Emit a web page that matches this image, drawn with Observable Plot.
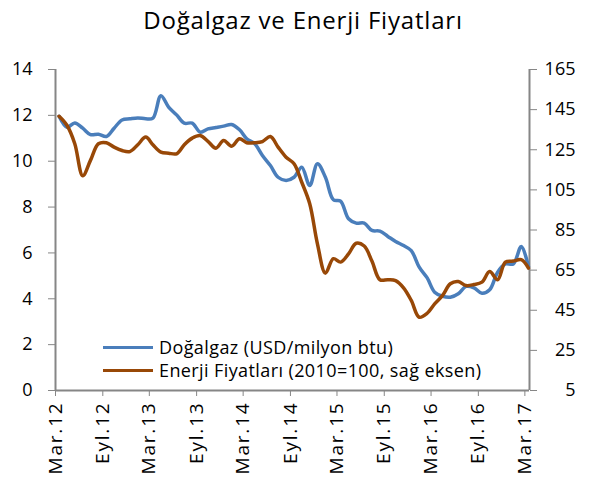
<!DOCTYPE html>
<html><head><meta charset="utf-8">
<script src="https://cdn.jsdelivr.net/npm/d3@7"></script>
<script src="https://cdn.jsdelivr.net/npm/@observablehq/plot@0.6"></script>
<style>
body{margin:0;background:#fff;font-family:"Open Sans",sans-serif;}
#wrap{position:relative;width:592px;height:481px;overflow:hidden;}
#title{height:40px;text-align:center;font-size:24px;letter-spacing:0.8px;line-height:40px;color:#000;padding-left:14px;box-sizing:border-box;}
.leg{position:absolute;left:103px;font-size:18px;letter-spacing:0.4px;line-height:20px;display:flex;align-items:center;white-space:nowrap;color:#000;}
.leg span.sw{display:inline-block;width:50px;height:3px;margin-right:6px;}
g[aria-label="x-axis tick label"] text{letter-spacing:1.8px;}
</style></head><body>
<div id="wrap">
<div id="title">Doğalgaz ve Enerji Fiyatları</div>
<div id="chart"></div>
</div>
<script>
// Monthly series, Mar 2012 .. Mar 2017
const startYear = 2012, startMonth = 2; // March
const gas = [11.96,11.48,11.67,11.44,11.16,11.18,11.08,11.44,11.8,11.85,11.89,11.85,11.88,12.86,12.36,12.02,11.66,11.66,11.27,11.41,11.47,11.53,11.6,11.37,10.98,10.76,10.25,9.81,9.30,9.16,9.30,9.74,8.94,9.89,9.30,8.32,8.26,7.49,7.30,7.30,6.98,6.95,6.72,6.5,6.32,6.1,5.38,4.91,4.29,4.11,4.07,4.22,4.54,4.48,4.24,4.39,5.16,5.52,5.52,6.28,5.4];
const energy = [141.7,137.1,128,112,119.7,128,128.5,126.3,124.6,124.1,127.5,131.3,127.5,123.8,123.3,123,127.5,130.8,132.1,129.2,125.8,129.6,126.8,130.5,128.5,128.5,129.1,131.6,126.3,121.3,118,108.8,98.1,78.1,63.5,70.7,69,73.1,78.4,77,69.5,60.2,60.2,59.8,56.2,49.9,41.5,43.5,48.2,52.4,58.2,59.3,57.3,57.8,59,64.3,60.2,69,69.5,70.2,66];
const xTickLabels = ["Mar.12","Eyl.12","Mar.13","Eyl.13","Mar.14","Eyl.14","Mar.15","Eyl.15","Mar.16","Eyl.16","Mar.17"];
const leftTicks = [0,2,4,6,8,10,12,14];
const rightTicks = [5,25,45,65,85,105,125,145,165];
const seriesNames = ["Doğalgaz (USD/milyon btu)","Enerji Fiyatları (2010=100, sağ eksen)"];
const colors = ["#4a7ebb","#984807"];

const leftDomain = [0,14], rightDomain = [5,165];
const toLeft = r => leftDomain[0] + (r - rightDomain[0]) * (leftDomain[1]-leftDomain[0]) / (rightDomain[1]-rightDomain[0]);

const dateOf = i => new Date(Date.UTC(startYear, startMonth + i, 15));
const xTicks = xTickLabels.map((_, k) => new Date(Date.UTC(startYear, startMonth + 6*k, 1)));
const xDomain = [new Date(Date.UTC(startYear, startMonth, 1)), new Date(Date.UTC(startYear + 5, startMonth, 19))];

const rows = [];
gas.forEach((v,i) => rows.push({date: dateOf(i), y: v, s: seriesNames[0]}));
energy.forEach((v,i) => rows.push({date: dateOf(i), y: toLeft(v), s: seriesNames[1]}));

const axisGray = "#868686";
const chart = Plot.plot({
  width: 592, height: 441,
  marginTop: 29, marginBottom: 91, marginLeft: 55, marginRight: 63,
  style: {fontFamily: "'Open Sans', sans-serif", fontSize: "18px", color: "#000", background: "#fff"},
  x: {type: "utc", domain: xDomain},
  y: {domain: leftDomain},
  color: {domain: seriesNames, range: colors},
  marks: [
    Plot.axisY({ticks: leftTicks, tickSize: 7, tickPadding: 16, stroke: axisGray, fill: "#000", label: null, tickFormat: d => String(d)}),
    Plot.axisY({anchor: "right", ticks: rightTicks.map(toLeft), tickSize: 7, tickPadding: 39, textAnchor: "end", stroke: axisGray, fill: "#000", label: null,
      tickFormat: d => String(Math.round(rightDomain[0] + (d - leftDomain[0]) * (rightDomain[1]-rightDomain[0]) / (leftDomain[1]-leftDomain[0])))}),
    Plot.axisX({ticks: xTicks, tickSize: 6, tickPadding: 5, tickRotate: -90, stroke: axisGray, fill: "#000", label: null, fontSize: 19,
      tickFormat: d => xTickLabels[xTicks.findIndex(t => +t === +d)]}),
    Plot.ruleX(xDomain, {stroke: axisGray, strokeWidth: 2}),
    Plot.ruleY([leftDomain[0]], {stroke: axisGray, strokeWidth: 2}),
    Plot.line(rows, {x: "date", y: "y", z: "s", stroke: "s", strokeWidth: 3.5, curve: "catmull-rom"})
  ]
});
document.getElementById("chart").appendChild(chart);

const wrap = document.getElementById("wrap");
const legTops = [337, 360];
seriesNames.forEach((n, i) => {
  const d = document.createElement("div");
  d.className = "leg";
  d.style.top = legTops[i] + "px";
  const sw = document.createElement("span");
  sw.className = "sw"; sw.style.background = colors[i];
  d.appendChild(sw);
  d.appendChild(document.createTextNode(n));
  wrap.appendChild(d);
});
</script>
</body></html>
